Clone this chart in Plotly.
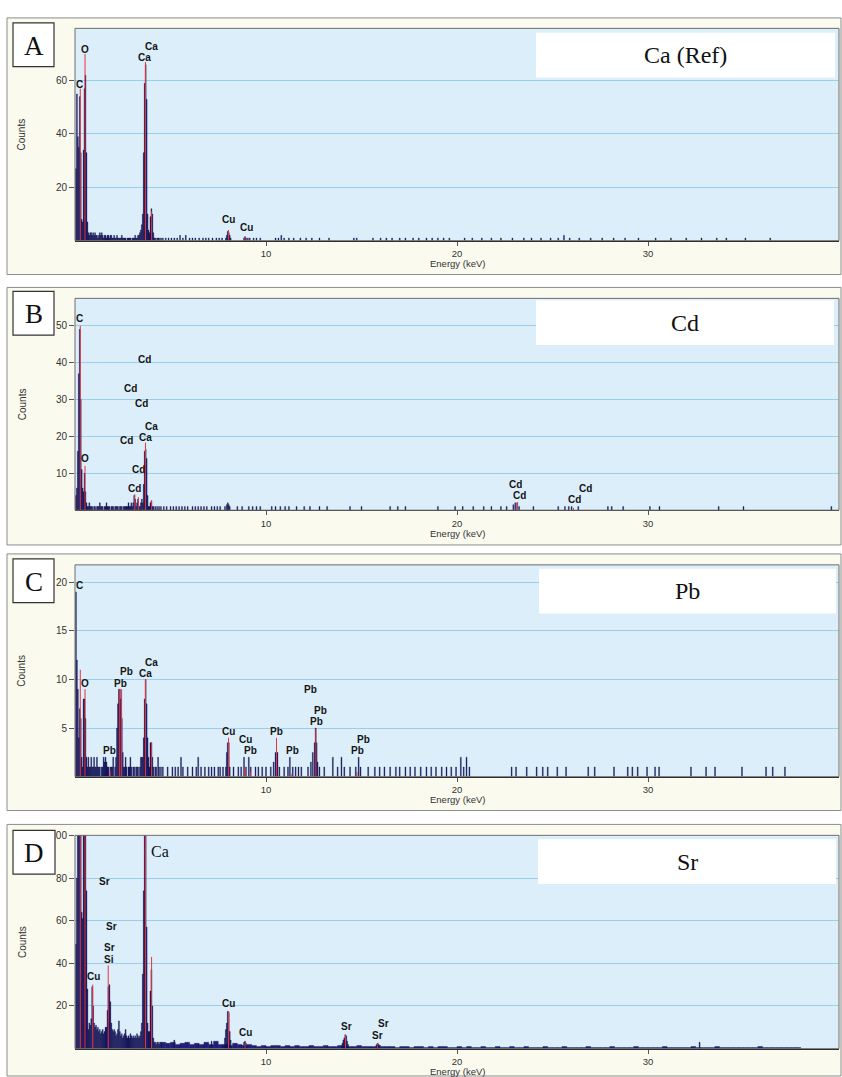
import plotly.graph_objects as go

# ---------------- data ----------------
CHANNEL_KEV = 0.05          # width of one detector channel (keV)
CONT_STEP_KEV = 0.25        # binning of the panel D continuum listing
CONT_START_KEV = 4.625

# counts of channels 0.05 ... 4.50 keV
A_LOW = [27, 55, 39, 35, 54, 33, 8, 7, 34, 57,
         62, 33, 7, 3, 2, 3, 3, 2, 3, 2,
         3, 2, 2, 1, 2, 3, 2, 3, 2, 1,
         2, 2, 1, 2, 2, 1, 2, 2, 1, 1,
         2, 1, 1, 2, 1, 1, 1, 1, 2, 1,
         1, 1, 1, 0, 1, 1, 1, 1, 0, 1,
         1, 1, 2, 1, 1, 2, 2, 3, 4, 6,
         10, 33, 59, 66, 53, 10, 4, 3, 9, 12,
         10, 3, 1, 1, 0, 1, 1, 1, 0, 1]
B_LOW = [4, 6, 16, 37, 49, 30, 11, 6, 5, 10,
         5, 2, 1, 1, 2, 1, 1, 1, 0, 1,
         1, 0, 1, 1, 1, 2, 1, 1, 1, 0,
         1, 1, 2, 1, 1, 1, 0, 1, 1, 1,
         0, 1, 1, 1, 1, 0, 1, 1, 1, 0,
         1, 1, 1, 1, 1, 2, 1, 1, 2, 1,
         2, 4, 3, 1, 2, 3, 1, 1, 2, 3,
         2, 7, 16, 16.5, 14, 4, 1, 1, 2, 2.5,
         1, 1, 0, 1, 0, 1, 0, 1, 0, 1]
C_LOW = [19, 12, 9, 4, 7, 6, 2, 1, 8, 8,
         6, 2, 1, 2, 1, 1, 2, 1, 1, 2,
         1, 1, 2, 1, 1, 1, 0, 1, 1, 2,
         1.5, 2, 1.5, 1, 1, 0, 1, 1, 1, 2,
         0, 1, 2, 5, 7.5, 9, 9, 8, 6, 2.5,
         1, 1, 2, 1, 0, 1, 1, 2, 1, 0,
         1, 1, 0, 1, 1, 1, 0, 1, 2, 2,
         2, 4, 8, 10, 7.5, 4, 2, 1, 3.5, 3.5,
         2, 1, 0, 1, 1, 0, 2, 1, 0, 1]
D_LOW = [49, 80, 130, 130, 130, 110, 64, 61, 130, 130,
         130, 74, 28, 9, 12, 11, 14, 29, 20, 12,
         10, 11, 9, 10, 8, 9, 7, 8, 9, 7,
         8, 10, 10, 18, 29, 30, 22, 12, 9, 8,
         9, 8, 6, 7, 9, 13, 8, 6, 7, 5,
         6, 7, 9, 6, 5, 6, 5, 7, 6, 5,
         6, 5, 6, 5, 7, 6, 5, 6, 8, 12,
         35, 74, 130, 130, 57, 12, 8, 8, 27, 37,
         20, 5, 3, 3, 2, 3, 3, 2, 3, 3]

# sparse channels above 4.5 keV: (energy keV, counts)
A_HI = [(4.6, 1), (4.75, 1), (4.9, 1), (5.05, 1), (5.2, 1), (5.35, 1), (5.5, 2), (5.65, 1),
        (5.8, 2), (6.0, 1), (6.15, 1), (6.3, 1), (6.5, 1), (6.7, 1), (6.85, 1), (7.0, 1),
        (7.2, 1), (7.4, 1), (7.55, 1), (7.7, 1), (7.9, 1), (7.95, 2), (8.0, 3.5), (8.05, 3),
        (8.1, 2), (8.15, 1), (8.85, 1), (8.9, 1.5), (8.95, 1), (9.05, 1), (9.15, 1), (9.35, 1),
        (9.5, 1), (9.7, 1), (10.5, 1), (10.65, 1), (10.8, 2), (10.95, 1), (11.2, 1), (11.45, 1),
        (11.8, 1), (12.1, 1), (12.4, 1), (12.8, 1), (13.3, 1), (14.6, 1), (14.75, 1), (15.6, 1),
        (16.0, 1), (16.3, 1), (16.6, 1), (17.0, 1), (17.3, 1), (17.7, 1), (18.0, 1), (18.4, 1),
        (18.7, 1), (19.0, 1), (19.3, 1), (19.6, 1), (20.4, 1), (20.8, 1), (21.3, 1), (21.8, 1),
        (22.3, 1), (22.9, 1), (23.5, 1), (23.9, 1), (24.4, 1), (24.9, 1), (25.3, 1), (25.6, 2),
        (25.9, 1), (26.4, 1), (27.0, 1), (27.6, 1), (28.2, 1), (28.8, 1), (29.5, 1), (30.4, 1),
        (31.2, 1), (32.0, 1), (32.8, 1), (33.6, 1), (34.1, 1), (35.1, 1), (36.4, 1)]
B_HI = [(4.65, 1), (4.8, 1), (5.0, 1), (5.15, 1), (5.3, 1), (5.45, 1), (5.6, 1), (5.75, 1),
        (5.9, 1), (6.15, 1), (6.3, 1), (6.45, 1), (6.6, 1), (6.75, 1), (6.9, 1), (7.15, 1),
        (7.3, 1), (7.45, 1), (7.6, 1), (7.85, 1), (7.95, 1.5), (8.0, 2), (8.05, 1.5), (8.1, 1),
        (8.5, 1), (8.75, 1), (9.1, 1), (9.3, 1), (9.5, 1), (9.7, 1), (10.3, 1), (10.5, 1),
        (10.75, 1), (11.0, 1), (11.2, 1), (11.6, 1), (12.0, 1), (12.3, 1), (12.8, 1), (13.2, 1),
        (14.4, 1), (15.0, 1), (16.5, 1), (16.9, 1), (17.3, 1), (19.0, 1), (19.9, 1), (20.3, 1),
        (20.85, 1), (21.4, 1), (21.8, 1), (22.3, 1), (22.6, 1), (22.95, 1.5), (23.05, 2),
        (23.15, 2), (23.25, 1), (24.0, 1), (25.3, 1), (25.65, 1), (25.85, 1), (26.0, 1),
        (26.35, 1), (27.9, 1), (28.1, 1), (28.7, 1), (30.1, 1), (30.6, 1), (33.7, 1), (35.0, 1),
        (39.6, 1)]
C_HI = [(4.6, 1), (4.85, 1), (5.1, 1), (5.25, 1), (5.4, 1), (5.55, 2), (5.65, 1), (5.9, 1),
        (6.15, 1), (6.35, 1), (6.45, 2), (6.6, 1), (6.8, 1), (7.0, 1), (7.15, 1), (7.3, 1),
        (7.5, 1), (7.6, 1), (7.75, 1), (7.9, 1), (7.95, 2.5), (8.0, 3.5), (8.05, 3.5), (8.1, 1),
        (8.3, 1), (8.55, 1), (8.7, 1), (8.85, 2), (8.95, 1), (9.1, 2), (9.2, 1), (9.45, 1),
        (9.6, 1), (9.8, 1), (10.0, 1), (10.25, 1), (10.4, 1.5), (10.5, 2.5), (10.6, 2.5),
        (10.7, 1), (10.95, 1), (11.15, 1), (11.25, 2), (11.4, 1), (11.55, 1), (11.7, 1),
        (11.85, 1), (12.2, 1), (12.35, 1.5), (12.45, 2.5), (12.55, 3.5), (12.6, 5), (12.65, 3.5),
        (12.7, 1.5), (12.8, 1), (13.05, 1), (13.5, 2), (13.75, 1), (13.95, 2), (14.1, 1),
        (14.4, 1), (14.7, 1), (14.85, 2), (14.95, 1), (15.35, 1), (15.7, 1), (15.95, 1),
        (16.2, 1), (16.5, 1), (16.8, 1), (17.0, 1), (17.3, 1), (17.55, 1), (17.8, 1), (18.1, 1),
        (18.4, 1), (18.65, 1), (18.9, 1), (19.2, 1), (19.45, 1), (19.7, 1), (19.95, 1),
        (20.2, 2), (20.35, 1), (20.5, 2), (20.65, 1), (22.86, 1), (23.09, 1), (23.65, 1),
        (24.17, 1), (24.49, 1), (24.75, 1), (25.25, 1), (25.71, 1), (26.87, 1), (27.21, 1),
        (28.22, 1), (28.94, 1), (29.18, 1), (29.46, 1), (29.95, 1), (30.37, 1), (30.58, 1),
        (32.25, 1), (33.04, 1), (33.51, 1), (34.92, 1), (36.18, 1), (36.53, 1), (37.17, 1)]
D_HI = [(5.2, 4), (7.15, 3.5), (7.85, 5), (7.9, 9), (7.95, 12), (8.0, 17.5), (8.05, 17),
        (8.1, 8), (8.15, 4), (8.85, 3), (8.9, 3.5), (8.95, 2.5), (14.0, 2.5), (14.05, 4),
        (14.1, 5), (14.15, 6.5), (14.2, 6), (14.25, 3.5), (14.3, 2), (15.8, 2), (15.85, 2.5),
        (15.9, 2), (32.7, 3)]
# panel D background continuum, 0.25 keV bins starting at 4.625 keV
D_CONT = [3, 2.5, 3, 2, 2.5, 3, 2, 2.5,
          2, 3, 2, 3.5, 2, 2, 1.5, 2.5,
          2, 1.5, 2, 1.5, 1, 1.5, 1, 1.5,
          1.5, 1, 1.5, 1, 1.5, 1, 1, 1.5,
          1, 1, 1.5, 1, 1, 1.5, 1, 1,
          1, 1.5, 1, 1, 1, 1.5, 1, 1,
          1, 0.5, 1, 1, 0.5, 1, 1, 0.5,
          1, 0.5, 1, 1, 0.5, 0.5, 1, 0.5,
          1, 0.5, 0.5, 1, 0.5, 0.5, 1, 0.5,
          0.5, 1, 0.5, 0.5, 1, 0.5, 0.5, 0.5,
          1, 0.5, 0.5, 0.5, 1, 0.5, 0.5, 0.5,
          0.5, 1, 0.5, 0.5, 0.5, 0.5, 1, 0.5,
          0.5, 0.5, 0.5, 1, 0.5, 0.5, 0.5, 0.5,
          0.5, 1, 0.5, 0.5, 0.5, 0.5, 0.5, 1,
          0.5, 0.5, 0.5, 0.5, 1, 0.5, 0.5, 0.5,
          0.5, 0.5, 0.5, 0.5, 0.5, 1, 0.5, 0.5,
          0.5, 0.5, 0.5, 0.5, 0.5, 0.5]

# element marker lines (energy keV, height in counts)
A_LINES = [(0.277, 57), (0.525, 70), (3.69, 67), (4.01, 11), (8.04, 4), (8.90, 1.5)]
B_LINES = [(0.277, 50), (0.525, 12), (3.13, 4.3), (3.32, 3.5), (3.69, 18.3), (4.01, 2.7),
           (23.17, 2.2), (26.1, 0.6)]
C_LINES = [(0.277, 11), (0.525, 9), (1.84, 0.6), (2.34, 9), (2.44, 9), (3.69, 10), (4.01, 3.5),
           (8.04, 4), (8.90, 1), (9.18, 0.5), (10.55, 4), (11.35, 0.3), (12.61, 4.9), (14.76, 0.5)]
D_LINES = [(0.277, 130), (0.525, 130), (0.93, 30), (1.74, 39), (3.69, 130), (4.01, 43),
           (8.04, 17.5), (8.90, 2.5), (14.16, 6.5), (15.83, 2.5)]

# peak labels (text, energy keV, counts)
A_LABELS = [("C", 0.26, 58.5), ("O", 0.52, 71.8), ("Ca", 3.66, 68.5), ("Ca", 4.03, 72.7),
            ("Cu", 8.03, 7.8), ("Cu", 8.99, 5.0)]
B_LABELS = [("C", 0.26, 52), ("Cd", 3.66, 40.8), ("Cd", 2.93, 32.9), ("Cd", 3.49, 28.9),
            ("Ca", 4.01, 22.8), ("Ca", 3.70, 19.7), ("Cd", 2.71, 19.0), ("O", 0.52, 14.1),
            ("Cd", 3.31, 10.9), ("Cd", 3.10, 6.0), ("Cd", 23.05, 7.0), ("Cd", 23.25, 4.0),
            ("Cd", 26.75, 5.9), ("Cd", 26.16, 2.9)]
C_LABELS = [("C", 0.26, 19.7), ("O", 0.52, 9.6), ("Pb", 2.67, 10.8), ("Pb", 2.36, 9.6),
            ("Ca", 4.01, 11.8), ("Ca", 3.70, 10.6), ("Pb", 1.83, 2.7), ("Cu", 8.05, 4.7),
            ("Cu", 8.92, 3.8), ("Pb", 9.20, 2.7), ("Pb", 10.56, 4.7), ("Pb", 11.38, 2.7),
            ("Pb", 12.34, 9.0), ("Pb", 12.83, 6.8), ("Pb", 12.62, 5.7), ("Pb", 15.13, 3.8),
            ("Pb", 14.78, 2.7)]
D_LABELS = [("Sr", 1.57, 78.3), ("Sr", 1.92, 57.4), ("Sr", 1.78, 47.3), ("Si", 1.78, 41.7),
            ("Cu", 0.96, 33.6), ("Cu", 8.05, 21.4), ("Cu", 8.94, 7.6), ("Sr", 14.22, 10.5),
            ("Sr", 16.14, 11.8), ("Sr", 15.85, 6.3)]
D_BIG_LABEL = ("Ca", 4.45, 92.5)

PANEL_LETTERS = ["A", "B", "C", "D"]
PANEL_TITLES = ["Ca (Ref)", "Cd", "Pb", "Sr"]
Y_RANGES = [[0, 79.6], [0, 57.4], [0, 21.8], [0, 100]]
Y_TICKS = [[20, 40, 60], [10, 20, 30, 40, 50], [5, 10, 15, 20], [20, 40, 60, 80, 100]]
X_RANGE = [0, 40]
X_TICKS = [10, 20, 30]

# ---------------- layout geometry (pixels) ----------------
W, H = 842, 1077
PLOT_X0, PLOT_X1 = 75, 839
PLOT_Y = [(22.5, 236), (294, 507), (562, 775), (834, 1048.5)]       # (top, bottom)
OUTER_Y = [(12, 270), (283, 542), (551, 809), (823, 1076)]
LETTER_BOX = [(13, 17, 54, 61), (13, 287, 54, 331), (13, 556, 54, 600), (13, 829, 55, 873)]
TITLE_BOX = [(536, 27, 835, 72), (536, 296, 834, 341), (539, 566, 836, 611), (538, 838, 836, 883)]
ENERGY_GAP = 23

NAVY = "#1f1d80"
RED = "#e8323c"
PLOT_BG = "#dbeefa"
GRID = "#99cfec"
CREAM = "#fafaee"
SANS = "Arial, Liberation Sans"
SERIF = "Liberation Serif, Times New Roman"


def px(x):
    return x / W


def py(y):
    return 1 - y / H


def unzip(pairs):
    return [p[0] for p in pairs], [p[1] for p in pairs]


def paper_text(x, y, text, size, family, color="#333", angle=0):
    return dict(x=px(x), y=py(y), xref="paper", yref="paper", text=text, showarrow=False,
                xanchor="center", yanchor="middle", textangle=angle,
                font=dict(family=family, size=size, color=color))


fig = go.Figure()
shapes = []
annotations = []

lows = [A_LOW, B_LOW, C_LOW, D_LOW]
his = [A_HI, B_HI, C_HI, D_HI]
lines = [A_LINES, B_LINES, C_LINES, D_LINES]
labels = [A_LABELS, B_LABELS, C_LABELS, D_LABELS]

for i in range(4):
    xa = "x" if i == 0 else f"x{i+1}"
    ya = "y" if i == 0 else f"y{i+1}"
    top, bot = PLOT_Y[i]

    # panel background and plot area
    oy0, oy1 = OUTER_Y[i]
    shapes.append(dict(type="rect", xref="paper", yref="paper", x0=px(7), x1=px(841),
                       y0=py(oy1), y1=py(oy0), fillcolor=CREAM,
                       line=dict(color="#8c8c8c", width=1), layer="below"))
    shapes.append(dict(type="rect", xref="paper", yref="paper", x0=px(PLOT_X0), x1=px(PLOT_X1),
                       y0=py(bot), y1=py(top), fillcolor=PLOT_BG,
                       line=dict(width=0), layer="below"))
    shapes.append(dict(type="rect", xref="paper", yref="paper", x0=px(PLOT_X0), x1=px(PLOT_X1),
                       y0=py(bot), y1=py(top), fillcolor="rgba(0,0,0,0)",
                       line=dict(color="#6e6e6e", width=1), layer="above"))

    # spectrum
    low = lows[i]
    low_x = [CHANNEL_KEV * (k + 1) for k in range(len(low))]
    bar_style = dict(marker=dict(color=NAVY, line=dict(color="#05051e", width=0.3)),
                     showlegend=False, hoverinfo="skip", xaxis=xa, yaxis=ya)
    if i == 3:
        cont_x = [CONT_START_KEV + CONT_STEP_KEV * k for k in range(len(D_CONT))]
        fig.add_trace(go.Bar(x=cont_x, y=D_CONT, width=CONT_STEP_KEV, **bar_style))
    fig.add_trace(go.Bar(x=low_x, y=low, width=CHANNEL_KEV, **bar_style))
    hx, hy = unzip(his[i])
    fig.add_trace(go.Bar(x=hx, y=hy, width=CHANNEL_KEV, **bar_style))

    # element marker lines
    lx, ly = [], []
    for e, h in lines[i]:
        lx += [e, e, None]
        ly += [0, h, None]
    fig.add_trace(go.Scatter(x=lx, y=ly, mode="lines", line=dict(color=RED, width=1.0),
                             showlegend=False, hoverinfo="skip", xaxis=xa, yaxis=ya))

    # peak labels
    for t, e, c in labels[i]:
        annotations.append(dict(x=e, y=c, xref=xa, yref=ya, text=f"<b>{t}</b>", showarrow=False,
                                xanchor="center", yanchor="middle",
                                font=dict(family=SANS, size=10, color="#151515")))

    # axes
    xkey = "xaxis" if i == 0 else f"xaxis{i+1}"
    ykey = "yaxis" if i == 0 else f"yaxis{i+1}"
    fig.update_layout(**{
        xkey: dict(domain=[px(PLOT_X0), px(PLOT_X1)], range=X_RANGE, tickvals=X_TICKS,
                   ticks="outside", ticklen=4, tickcolor="#555", showgrid=False, zeroline=False,
                   showline=True, linecolor="#222", linewidth=1, anchor=ya,
                   tickfont=dict(family=SANS, size=9.5, color="#333")),
        ykey: dict(domain=[py(bot), py(top)], range=Y_RANGES[i], tickvals=Y_TICKS[i],
                   ticks="outside", ticklen=5, tickcolor="#555", showgrid=True, gridcolor=GRID,
                   gridwidth=1.3, zeroline=False, showline=False, anchor=xa,
                   tickfont=dict(family=SANS, size=10, color="#333")),
    })

    # axis titles
    annotations.append(paper_text(22, (top + bot) / 2, "Counts", 10, SANS, angle=-90))
    annotations.append(paper_text(457, bot + ENERGY_GAP, "Energy (keV)", 9.5, SANS))

    # letter box
    lx0, ly0, lx1, ly1 = LETTER_BOX[i]
    shapes.append(dict(type="rect", xref="paper", yref="paper", x0=px(lx0), x1=px(lx1),
                       y0=py(ly1), y1=py(ly0), fillcolor="white",
                       line=dict(color="#333", width=1.2), layer="above"))
    annotations.append(paper_text((lx0 + lx1) / 2, (ly0 + ly1) / 2 + 1, PANEL_LETTERS[i],
                                  27, SERIF, color="#111"))
    # title box
    tx0, ty0, tx1, ty1 = TITLE_BOX[i]
    shapes.append(dict(type="rect", xref="paper", yref="paper", x0=px(tx0), x1=px(tx1),
                       y0=py(ty1), y1=py(ty0), fillcolor="white",
                       line=dict(width=0), layer="above"))
    annotations.append(paper_text((tx0 + tx1) / 2, (ty0 + ty1) / 2, PANEL_TITLES[i],
                                  24, SERIF, color="#111"))

# big serif Ca label in panel D
t, e, c = D_BIG_LABEL
annotations.append(dict(x=e, y=c, xref="x4", yref="y4", text=t, showarrow=False,
                        xanchor="center", yanchor="middle",
                        font=dict(family=SERIF, size=16, color="#111")))

fig.update_layout(width=W, height=H, margin=dict(l=0, r=0, t=0, b=0),
                  paper_bgcolor="white", plot_bgcolor="rgba(0,0,0,0)",
                  barmode="overlay", showlegend=False,
                  shapes=shapes, annotations=annotations)

fig.write_html("out.html", config={"displayModeBar": False},
               post_script="document.body.style.margin='0';document.body.style.overflow='hidden';")
